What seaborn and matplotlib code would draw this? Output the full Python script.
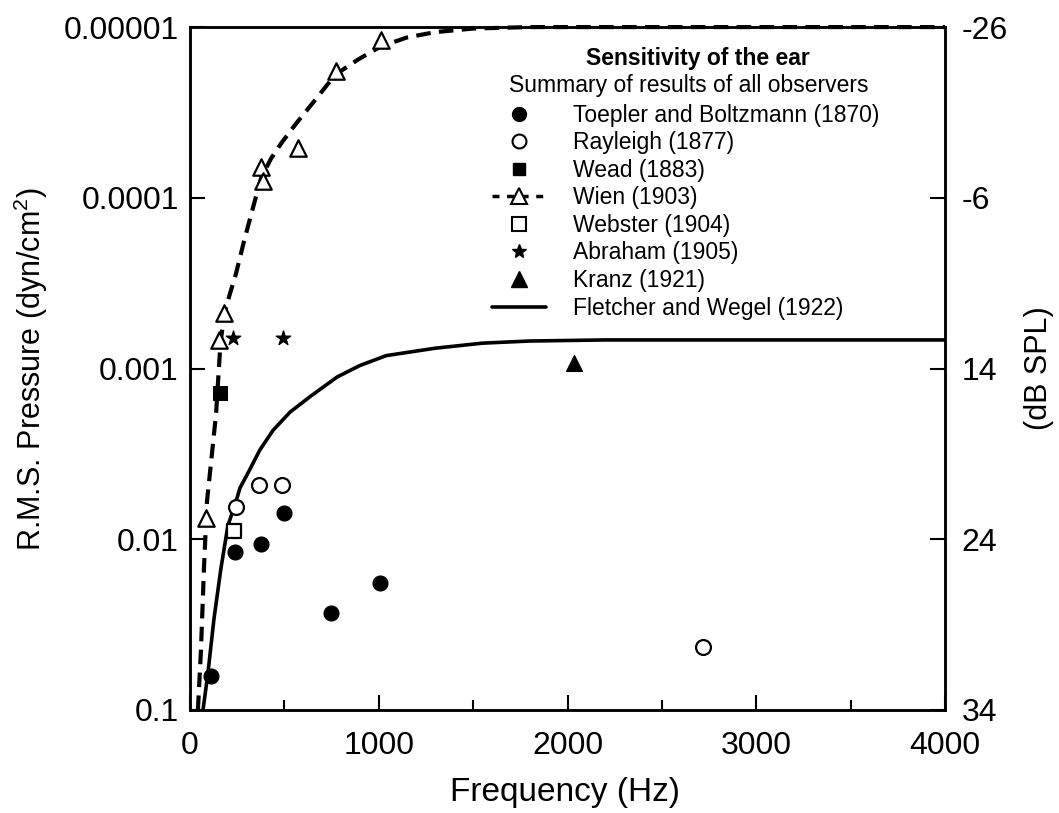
import numpy as np
import pandas as pd
import seaborn as sns
import matplotlib.pyplot as plt
from matplotlib.lines import Line2D
from matplotlib.ticker import FixedLocator, NullLocator

# values (Hz, dyn/cm^2)
toepler_freq = [111, 238, 376, 497, 746, 1005]
toepler_pres = [0.063, 0.0118, 0.0107, 0.0070, 0.027, 0.018]

rayleigh_freq = [243, 365, 487, 2720]
rayleigh_pres = [0.0065, 0.0048, 0.0048, 0.043]

wead_freq = [159]
wead_pres = [0.0014]

wien_freq = [85, 155, 180, 376, 386, 571, 772, 1010]
wien_pres = [0.0075, 6.8e-4, 4.7e-4, 6.6e-5, 8.0e-5, 5.1e-5, 1.8e-5, 1.19e-5]

webster_freq = [233]
webster_pres = [0.009]

abraham_freq = [228, 492]
abraham_pres = [6.6e-4, 6.6e-4]

kranz_freq = [2032]
kranz_pres = [9.3e-4]

# fitted curves as drawn
wien_curve_freq = [42, 58, 74, 90, 111, 138, 153, 162, 182, 210, 243, 286, 333, 376,
                   429, 483, 560, 660, 770, 890, 1010, 1150, 1300, 1500, 1800, 4000]
wien_curve_pres = [0.1, 0.045, 0.0148, 0.0060, 0.0036, 0.00185, 0.0010, 7.0e-4, 4.8e-4,
                   3.7e-4, 2.8e-4, 1.8e-4, 1.15e-4, 7.7e-5, 5.9e-5, 4.8e-5, 3.7e-5,
                   2.7e-5, 1.9e-5, 1.55e-5, 1.3e-5, 1.15e-5, 1.07e-5, 1.02e-5, 1.0e-5,
                   1.0e-5]

fletcher_freq = [69, 95, 127, 164, 201, 238, 265, 312, 370, 440, 530, 640, 780, 900,
                 1040, 1300, 1550, 1800, 2200, 4000]
fletcher_pres = [0.1, 0.061, 0.0293, 0.0148, 0.0083, 0.0063, 0.0050, 0.0040, 0.0030,
                 0.0023, 0.0018, 0.00145, 0.00112, 0.00096, 0.00084, 0.00076, 0.00071,
                 0.00069, 0.00068, 0.00068]

y_ticks = [1e-5, 1e-4, 1e-3, 1e-2, 1e-1]
y_labels = ["0.00001", "0.0001", "0.001", "0.01", "0.1"]
db_labels = ["-26", "-6", "14", "24", "34"]

sns.set_style("ticks", {"xtick.direction": "in", "ytick.direction": "in",
                        "axes.edgecolor": "black", "text.color": "black",
                        "axes.labelcolor": "black", "xtick.color": "black",
                        "ytick.color": "black"})
plt.rcParams['font.family'] = ['Liberation Sans', 'DejaVu Sans']
plt.rcParams['mathtext.fontset'] = 'custom'
plt.rcParams['mathtext.rm'] = 'Liberation Sans'

fig = plt.figure(figsize=(10.59, 8.13), dpi=100)
ax = fig.add_axes([0.1794, 0.1267, 0.713, 0.840])

# curves
sns.lineplot(x=wien_curve_freq, y=wien_curve_pres, ax=ax, color='black', lw=3,
             linestyle=(0, (3.5, 2)), estimator=None)
ax.lines[-1].set_clip_on(False)
sns.lineplot(x=fletcher_freq, y=fletcher_pres, ax=ax, color='black', lw=2.6,
             estimator=None)

# observer points
sns.scatterplot(x=toepler_freq, y=toepler_pres, ax=ax, marker='o', s=115,
                color='black', edgecolor='black', zorder=3)
sns.scatterplot(x=rayleigh_freq, y=rayleigh_pres, ax=ax, marker='o', s=115,
                facecolor='white', edgecolor='black', linewidth=1.6, zorder=3)
sns.scatterplot(x=wead_freq, y=wead_pres, ax=ax, marker='s', s=90,
                color='black', edgecolor='black', zorder=3)
sns.scatterplot(x=wien_freq, y=wien_pres, ax=ax, marker='^', s=140,
                facecolor='white', edgecolor='black', linewidth=1.6, zorder=3)
sns.scatterplot(x=webster_freq, y=webster_pres, ax=ax, marker='s', s=105,
                facecolor='white', edgecolor='black', linewidth=1.6, zorder=3)
sns.scatterplot(x=abraham_freq, y=abraham_pres, ax=ax, marker='*', s=120,
                color='black', edgecolor='black', zorder=3)
sns.scatterplot(x=kranz_freq, y=kranz_pres, ax=ax, marker='^', s=130,
                color='black', edgecolor='black', zorder=3)

ax.set_yscale('log')
ax.set_ylim(0.1, 1e-5)
ax.set_xlim(0, 4000)
ax.yaxis.set_major_locator(FixedLocator(y_ticks))
ax.yaxis.set_minor_locator(NullLocator())
ax.set_yticklabels(y_labels)
ax.set_xticks([0, 1000, 2000, 3000, 4000])
ax.set_xticks([500, 1500, 2500, 3500], minor=True)
ax.tick_params(axis='both', which='major', labelsize=23, width=1.5, length=11,
               direction='in', pad=8)
ax.tick_params(axis='x', which='major', pad=15)
ax.tick_params(axis='x', which='minor', width=1.5, length=7, direction='in')
for sp in ax.spines.values():
    sp.set_linewidth(1.8)

ax.set_xlabel("Frequency (Hz)", fontsize=24)
ax.xaxis.set_label_coords(0.497, -0.098)
ax.set_ylabel("R.M.S. Pressure (dyn/cm$^2$)", fontsize=22)
ax.yaxis.set_label_coords(-0.185, 0.5)

ax2 = ax.twinx()
ax2.set_yscale('log')
ax2.set_ylim(0.1, 1e-5)
ax2.yaxis.set_major_locator(FixedLocator(y_ticks))
ax2.yaxis.set_minor_locator(NullLocator())
ax2.set_yticklabels(db_labels)
ax2.tick_params(axis='y', which='major', labelsize=23, width=1.5, length=11,
                direction='in', pad=12)
ax2.set_ylabel("(dB SPL)", fontsize=22)
ax2.yaxis.set_label_coords(1.105, 0.5)
for sp in ax2.spines.values():
    sp.set_linewidth(1.8)

# legend block
ax.text(0.672, 0.954, "Sensitivity of the ear", transform=ax.transAxes,
        ha='center', va='center', fontsize=16.5, fontweight='bold')
ax.text(0.66, 0.915, "Summary of results of all observers", transform=ax.transAxes,
        ha='center', va='center', fontsize=16.5)

handles = [
    Line2D([], [], marker='o', color='black', linestyle='none', markersize=10),
    Line2D([], [], marker='o', markerfacecolor='white', markeredgecolor='black',
           markeredgewidth=1.5, linestyle='none', markersize=10),
    Line2D([], [], marker='s', color='black', linestyle='none', markersize=9),
    Line2D([], [], marker='^', markerfacecolor='white', markeredgecolor='black',
           markeredgewidth=1.5, color='black', lw=2.5, linestyle=(0, (2, 2.2)),
           markersize=11),
    Line2D([], [], marker='s', markerfacecolor='white', markeredgecolor='black',
           markeredgewidth=1.5, linestyle='none', markersize=10),
    Line2D([], [], marker='*', color='black', linestyle='none', markersize=10),
    Line2D([], [], marker='^', color='black', linestyle='none', markersize=11),
    Line2D([], [], color='black', lw=2.6),
]
labels = ["Toepler and Boltzmann (1870)", "Rayleigh (1877)", "Wead (1883)",
          "Wien (1903)", "Webster (1904)", "Abraham (1905)", "Kranz (1921)",
          "Fletcher and Wegel (1922)"]
ax.legend(handles, labels, loc='upper left', bbox_to_anchor=(0.40, 0.888),
          frameon=False, fontsize=16.5, handlelength=2.35, handletextpad=1.18,
          labelspacing=0.2, borderpad=0, borderaxespad=0)

fig.savefig("out.png", dpi=100, facecolor='white')
